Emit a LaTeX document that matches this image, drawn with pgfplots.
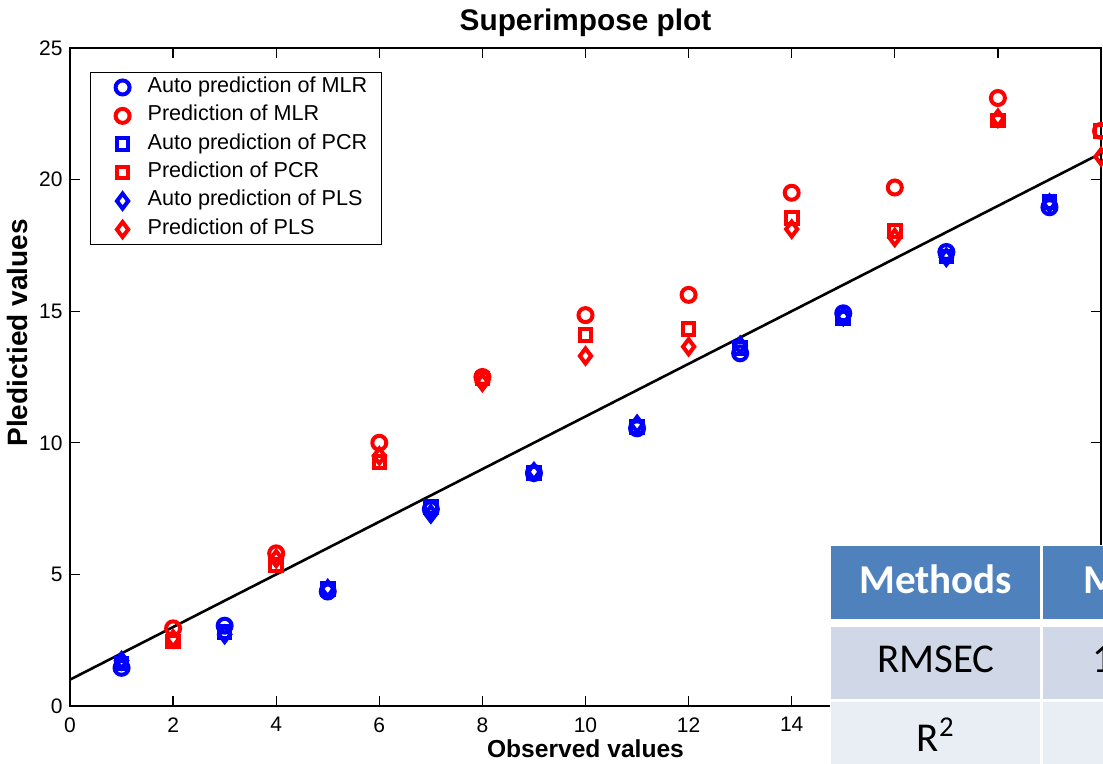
\documentclass[border=0pt]{standalone}
\usepackage{pgfplots}
\usepackage{pgfplotstable}
\pgfplotsset{compat=1.18}
\usepackage{fontspec}
\setmainfont{Liberation Sans}
\newfontfamily\calibri{Carlito}

\definecolor{hdrblue}{RGB}{79,129,189}
\definecolor{rowone}{RGB}{208,216,232}
\definecolor{rowtwo}{RGB}{233,237,244}

% auto predictions (odd observations): MLR PCR PLS
\pgfplotstableread{
x   mlr    pcr    pls
1   1.45   1.62   1.72
3   3.05   2.82   2.72
5   4.35   4.45   4.45
7   7.48   7.57   7.30
9   8.85   8.85   8.90
11  10.55  10.60  10.70
13  13.40  13.60  13.70
15  14.92  14.74  14.80
17  17.25  17.08  17.05
19  18.95  19.15  19.10
}\autotab

% predictions (even observations): MLR PCR PLS
\pgfplotstableread{
x   mlr    pcr    pls
2   2.95   2.45   2.55
4   5.80   5.36   5.60
6   10.00  9.28   9.50
8   12.50  12.45  12.30
10  14.85  14.10  13.30
12  15.62  14.32  13.65
14  19.50  18.55  18.12
16  19.70  18.05  17.80
18  23.10  22.25  22.33
20  21.85  21.85  20.87
}\predtab

\pgfplotsset{
  mylegend/.style={legend image code/.code={%
    \path[draw=none] (0pt,0pt) -- (21.5pt,0pt);
    \draw[##1] plot coordinates {(11pt,0pt)};}},
}

\begin{document}
\begin{tikzpicture}
\path[use as bounding box] (-35pt,-29pt) rectangle (516.5pt,353pt);
\begin{axis}[
  scale only axis, width=515.5pt, height=329pt,
  xmin=0, xmax=20, ymin=0, ymax=25,
  xtick={0,2,...,20}, ytick={0,5,...,25},
  tick align=inside, major tick length=5pt,
  axis line style={line width=0.75pt},
  every tick/.style={black, line width=0.6pt},
  /pgf/number format/assume math mode=true,
  tick label style={font=\fontsize{10.5}{12}\selectfont},
  xticklabel style={anchor=north, inner sep=0pt, yshift=-5.5pt},
  yticklabel style={anchor=east, inner sep=0pt, xshift=-3.5pt},
  title={Superimpose plot},
  every axis title/.style={at={(axis description cs:0.5,1)}, anchor=base, yshift=8.5pt,
    font=\bfseries\fontsize{14.9}{17}\selectfont},
  xlabel={Observed values},
  every axis x label/.style={at={(axis description cs:0.5,0)}, anchor=base, yshift=-26pt,
    font=\bfseries\fontsize{12.3}{14}\selectfont},
  ylabel={Pledictied values},
  every axis y label/.style={at={(axis description cs:-0.0514,0.567)}, anchor=center, rotate=90,
    font=\bfseries\fontsize{14}{16}\selectfont},
  clip=false,
  legend cell align=left,
  legend style={at={(axis description cs:0.0194,0.964)}, anchor=north west,
    draw=black, line width=0.6pt, fill=white,
    font=\fontsize{10.8}{13}\selectfont,
    inner xsep=5pt, inner ysep=0.5pt, row sep=0pt,
    nodes={inner sep=0pt, inner xsep=2pt, text height=9.5pt, text depth=4.7pt}},
]
\addplot[only marks, blue, mark=o, mark size=3.5pt, line width=2pt, mylegend] table[x=x, y=mlr] {\autotab};
\addlegendentry{Auto prediction of MLR}
\addplot[only marks, red, mark=o, mark size=3.5pt, line width=2pt, mylegend] table[x=x, y=mlr] {\predtab};
\addlegendentry{Prediction of MLR}
\addplot[only marks, blue, mark=square, mark size=2.9pt, line width=2pt, mylegend] table[x=x, y=pcr] {\autotab};
\addlegendentry{Auto prediction of PCR}
\addplot[only marks, red, mark=square, mark size=2.9pt, line width=2pt, mylegend] table[x=x, y=pcr] {\predtab};
\addlegendentry{Prediction of PCR}
\addplot[only marks, blue, mark=diamond, mark size=3.75pt, line width=2pt, mylegend] table[x=x, y=pls] {\autotab};
\addlegendentry{Auto prediction of PLS}
\addplot[only marks, red, mark=diamond, mark size=3.75pt, line width=2pt, mylegend] table[x=x, y=pls] {\predtab};
\addlegendentry{Prediction of PLS}
\addplot[black, line width=1.3pt, forget plot] coordinates {(0,1) (20,21)};
\end{axis}
% overlaid results table (partly outside the picture, as in the reference)
\fill[white] (380pt,-40pt) rectangle (560pt,80.5pt);
\fill[hdrblue] (380.5pt,43.5pt) rectangle (485pt,80pt);
\fill[hdrblue] (486.5pt,43.5pt) rectangle (560pt,80pt);
\fill[rowone] (380.5pt,3.5pt) rectangle (485pt,39.5pt);
\fill[rowone] (486.5pt,3.5pt) rectangle (560pt,39.5pt);
\fill[rowtwo] (380.5pt,-40pt) rectangle (485pt,2pt);
\fill[rowtwo] (486.5pt,-40pt) rectangle (560pt,2pt);
\node[anchor=base, text=white, inner sep=0pt, font=\calibri\bfseries\fontsize{20.5}{24}\selectfont] at (432.9pt,56pt) {Methods};
\node[anchor=base west, text=white, inner sep=0pt, font=\calibri\bfseries\fontsize{20.5}{24}\selectfont] at (506.5pt,56pt) {MLR};
\node[anchor=base, inner sep=0pt, font=\calibri\fontsize{20.5}{24}\selectfont] at (433pt,16.6pt) {RMSEC};
\node[anchor=base west, inner sep=0pt, font=\calibri\fontsize{20.5}{24}\selectfont] at (510.8pt,16.6pt) {1};
\node[anchor=base, inner sep=0pt, font=\calibri\fontsize{20.5}{24}\selectfont] at (432.9pt,-23pt) {R\textsuperscript{2}};
\end{tikzpicture}
\end{document}
